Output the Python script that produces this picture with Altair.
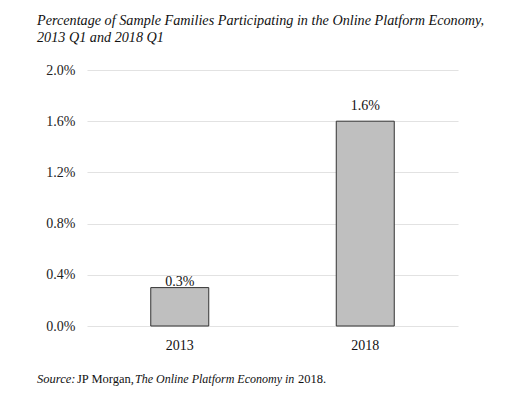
import altair as alt
import pandas as pd

years = ["2013", "2018"]
shares = [0.003, 0.016]
labels = ["0.3%", "1.6%"]
y_ticks = [0.0, 0.004, 0.008, 0.012, 0.016, 0.020]

title_lines = ["Percentage of Sample Families Participating in the Online Platform Economy,",
               "2013 Q1 and 2018 Q1"]
source_parts = ["Source:", "JP Morgan,", "The Online Platform Economy in", "2018."]
source_italic = [True, False, True, False]

df = pd.DataFrame({"year": years, "share": shares, "label": labels})

SERIF = "Liberation Serif"
W, H = 371, 256

x = alt.X("year:N", title=None,
          scale=alt.Scale(paddingInner=0, paddingOuter=0),
          axis=alt.Axis(labelAngle=0, ticks=False, domain=False, grid=False, labelFont=SERIF,
                        labelFontSize=14, labelColor="#111", labelPadding=12))
y = alt.Y("share:Q", title=None,
          scale=alt.Scale(domain=[0, 0.02], nice=False),
          axis=alt.Axis(values=y_ticks, format=".1%", ticks=False, domain=False,
                        labelFont=SERIF, labelFontSize=14, labelColor="#222",
                        labelPadding=12, gridColor="#e2e2e2", gridWidth=1.2))

base = alt.Chart(df)
bars = base.mark_bar(size=58, color="#bfbfbf", stroke="#333", strokeWidth=1).encode(x=x, y=y)

lab_low = base.transform_filter(alt.datum.year == "2013").mark_text(
    baseline="bottom", dy=1, font=SERIF, fontSize=14, color="#111").encode(
    x="year:N", y="share:Q", text="label:N")
lab_high = base.transform_filter(alt.datum.year == "2018").mark_text(
    baseline="bottom", dy=-8, font=SERIF, fontSize=14, color="#111").encode(
    x="year:N", y="share:Q", text="label:N")

layers = []
for line, yy in zip(title_lines, [-45, -28]):
    layers.append(alt.Chart(pd.DataFrame({"t": [line]})).mark_text(
        align="left", baseline="alphabetic", font=SERIF, fontStyle="italic",
        fontSize=14.2, color="#111").encode(
        x=alt.value(-50), y=alt.value(yy), text="t:N"))

# source line, mixed italic/roman pieces
src_x = [-50, -10, 48, 211]
src_size = [12.5, 12.5, 12.0, 12.5]
for txt, it, xx, fs in zip(source_parts, source_italic, src_x, src_size):
    layers.append(alt.Chart(pd.DataFrame({"t": [txt]})).mark_text(
        align="left", baseline="alphabetic", font=SERIF,
        fontStyle="italic" if it else "normal", fontSize=fs, color="#111").encode(
        x=alt.value(xx), y=alt.value(313), text="t:N"))

chart = alt.layer(bars, lab_low, lab_high, *layers).properties(
    width=W, height=H,
    padding={"left": 79, "top": 62, "right": 50, "bottom": 70},
    autosize=alt.AutoSizeParams(type="none"),
).configure(background="white").configure_view(strokeWidth=0, stroke="transparent")

chart.save("out.html", embed_options={"renderer": "svg", "actions": False})
